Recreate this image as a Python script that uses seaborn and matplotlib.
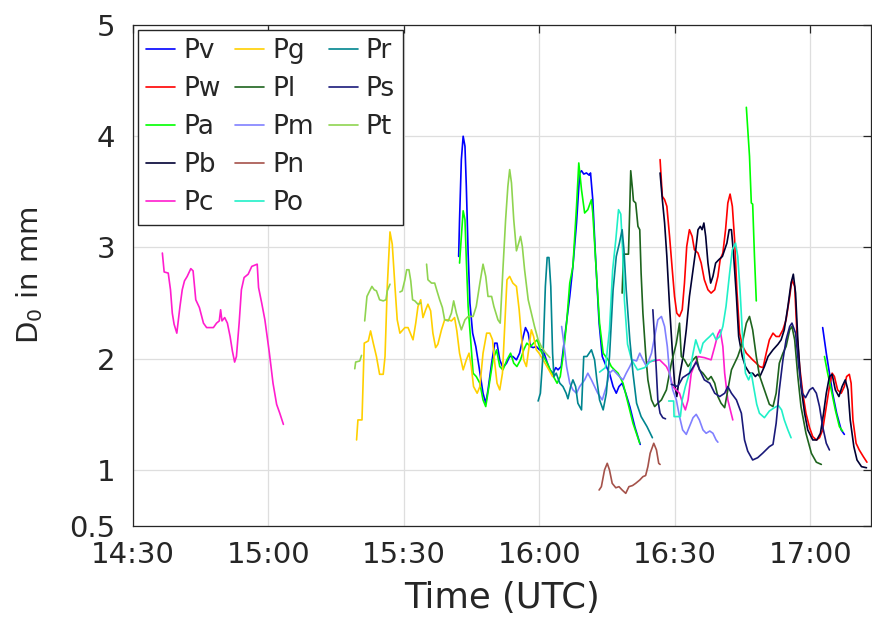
import matplotlib
matplotlib.use("Agg")
import matplotlib.pyplot as plt
import numpy as np
import pandas as pd
import seaborn as sns
from matplotlib.lines import Line2D

# ---------------- data: (minutes after 14:30, D0 in mm); None = gap ----------------
PV = [(72.1,2.92),(72.3,3.25),(72.7,3.79),(73.1,4.00),(73.5,3.91),(73.8,3.55),(74.2,2.95),(74.6,2.50),
      (75.2,2.23),(75.9,2.11),(76.6,1.93),(77.5,1.69),(78.1,1.60),(78.6,1.72),(79.4,1.96),(80.1,2.14),
      (80.6,2.14),(81.2,1.99),(81.9,1.92),(82.7,1.96),(83.4,2.02),(84.1,2.02),(84.9,1.99),(85.6,2.05),
      (86.4,2.20),(86.9,2.28),(87.5,2.23),(88.0,2.11),(88.6,2.10),(89.3,2.11),(90.0,2.08),(90.8,2.08),
      (91.5,1.99),(92.3,1.90),(93.0,1.87),(93.6,1.92),(94.1,1.90),(94.8,1.93),(95.6,2.20),(96.7,2.56),
      (97.4,2.83),(98.2,3.22),(98.9,3.67),(99.3,3.69),(99.8,3.66),(100.4,3.67),(101.0,3.65),(101.3,3.67),
      (101.8,3.43),(102.4,2.92),(103.2,2.32),(103.9,2.02),(104.8,1.93),(105.5,1.87),(106.3,1.75),(107.0,1.69),
      (107.6,1.75),(108.3,1.78),(109.1,1.69),(110.0,1.57),(111.1,1.39),(112.3,1.23), None,
      (152.7,2.28),(153.5,2.05),(154.2,1.87),(154.9,1.69),(155.8,1.51),(156.8,1.36),(157.5,1.32)]

PW = [(116.7,3.79),(117.2,3.46),(117.7,3.43),(118.2,3.37),(118.8,3.10),(119.4,2.80),(119.9,2.56),(120.4,2.41),
      (121.0,2.38),(121.6,2.44),(122.1,2.68),(122.6,3.01),(123.2,3.16),(123.8,3.10),(124.3,2.98),(125.1,2.95),
      (125.8,2.86),(126.5,2.71),(127.3,2.62),(128.0,2.59),(128.8,2.62),(129.5,2.74),(130.0,2.89),(130.6,2.95),
      (131.2,3.16),(131.7,3.40),(132.2,3.48),(132.7,3.37),(133.2,3.07),(133.7,2.62),(134.3,2.23),(135.0,2.11),
      (135.8,2.05),(136.5,2.02),(137.2,1.99),(138.0,1.96),(138.7,1.93),(139.5,1.92),(140.2,2.05),(140.9,2.17),
      (141.7,2.23),(142.4,2.20),(143.1,2.20),(143.9,2.26),(144.6,2.35),(145.4,2.56),(145.9,2.71),(146.5,2.65),
      (147.0,2.23),(147.6,1.93),(148.3,1.69),(149.0,1.51),(149.8,1.38),(150.5,1.30),(151.3,1.27),(152.0,1.29),
      (152.7,1.36),(153.5,1.57),(154.2,1.75),(154.8,1.87),(155.3,1.84),(156.0,1.72),(156.8,1.69),(157.5,1.75),
      (158.0,1.84),(158.6,1.86),(159.0,1.78),(159.4,1.45),(160.1,1.24),(160.8,1.18),(161.7,1.12),(162.5,1.07)]

PA = [(72.3,2.86),(72.7,3.10),(73.1,3.33),(73.5,3.25),(73.8,2.89),(74.2,2.47),(74.7,2.20),(75.3,1.87),
      (76.0,1.84),(76.8,1.78),(77.5,1.63),(78.1,1.57),(78.8,1.75),(79.7,1.99),(80.5,2.08),(81.2,1.93),
      (81.9,1.90),(82.8,1.99),(83.6,2.05),(84.3,1.96),(85.0,1.93),(85.8,1.99),(86.5,2.08),(87.2,2.14),
      (88.0,2.11),(88.7,2.14),(89.5,2.17),(90.2,2.08),(90.9,2.02),(91.7,1.96),(92.4,1.90),(93.1,1.84),
      (93.9,1.78),(94.6,1.84),(95.3,2.05),(96.0,2.32),(96.7,2.68),(97.4,2.83),(98.2,3.37),(98.7,3.76),
      (99.3,3.52),(100.0,3.31),(100.7,3.34),(101.5,3.43),(101.8,3.31),(102.6,2.77),(103.3,2.32),(104.1,2.05),
      (105.2,1.99),(105.9,1.93),(106.6,1.90),(107.4,1.87),(108.5,1.78),(109.6,1.60),(110.7,1.42),(112.2,1.24),
      None,
      (135.8,4.26),(136.5,3.82),(136.9,3.40),(137.2,3.39),(137.6,2.92),(138.0,2.52),
      None,
      (153.1,2.02),(153.8,1.87),(154.6,1.72),(155.5,1.54),(156.4,1.39),(157.1,1.35)]

PB = [(116.7,3.67),(117.2,3.43),(117.7,3.22),(118.2,2.92),(118.8,2.47),(119.4,2.08),(119.9,1.78),(120.4,1.66),
      (121.0,1.84),(121.8,2.02),(122.5,2.26),(123.2,2.56),(124.0,2.80),(124.6,2.98),(125.1,3.16),(125.6,3.19),
      (126.0,3.16),(126.4,3.22),(126.8,3.10),(127.3,2.86),(127.9,2.68),(128.4,2.74),(129.0,2.86),(129.7,2.89),
      (130.5,2.92),(131.0,2.98),(131.5,3.04),(132.0,3.16),(132.5,3.16),(133.0,2.92),(133.6,2.56),(134.1,2.20),
      (134.9,2.02),(135.6,1.93),(136.5,1.87),(137.2,1.87),(137.8,1.84),(138.3,1.86),(138.8,1.84),(139.8,1.93),
      (140.6,2.02),(141.7,2.08),(142.8,2.13),(143.5,2.17),(144.2,2.26),(145.0,2.47),(145.7,2.68),(146.2,2.76),
      (146.7,2.59),(147.2,2.17),(147.9,1.75),(148.7,1.51),(149.4,1.36),(150.5,1.27),(151.4,1.27),(152.2,1.33),
      (152.9,1.51),(153.5,1.69),(154.2,1.84),(154.8,1.86),(155.5,1.72),(156.3,1.66),(157.0,1.75),(157.7,1.81),
      (158.3,1.72),(158.8,1.45),(159.6,1.21),(160.3,1.09),(161.3,1.03),(162.4,1.02)]

PC = [(6.5,2.95),(6.9,2.78),(7.8,2.77),(8.3,2.62),(8.7,2.41),(9.1,2.31),(9.7,2.23),(10.4,2.47),(10.9,2.62),
      (11.4,2.70),(12.0,2.74),(12.8,2.81),(13.3,2.79),(13.9,2.53),(14.7,2.46),(15.6,2.32),(16.3,2.28),(17.8,2.28),
      (18.5,2.32),(19.1,2.34),(19.4,2.44),(19.7,2.34),(20.3,2.37),(20.9,2.32),(21.5,2.20),(22.0,2.07),(22.5,1.97),
      (22.9,2.02),(23.5,2.32),(24.0,2.62),(24.6,2.73),(25.5,2.76),(26.3,2.83),(27.5,2.85),(27.8,2.64),(28.5,2.50),
      (29.2,2.35),(30.2,2.05),(31.0,1.78),(31.8,1.59),(32.5,1.51),(33.3,1.41),
      None,
      (113.9,1.97),(116.6,1.99),(118.1,1.93),(118.8,1.87),(119.5,1.75),(121.0,1.69),(121.7,1.60),(122.3,1.54),
      (122.9,1.63),(123.6,1.87),(125.1,2.02),(126.5,2.01),(128.0,1.99),(128.8,2.11),(129.5,2.22),(130.0,2.26),
      (130.6,2.11),(131.0,1.87),(131.7,1.63),(132.8,1.45)]

PG = [(49.5,1.27),(49.8,1.45),(50.7,1.45),(51.2,2.14),(52.1,2.16),(52.6,2.25),(53.2,2.14),(53.9,2.02),
      (54.6,1.86),(55.4,1.86),(55.8,2.02),(56.3,2.65),(56.9,3.14),(57.4,3.03),(58.0,2.65),(58.5,2.35),
      (59.1,2.23),(60.2,2.28),(60.9,2.28),(61.5,2.22),(62.0,2.17),(62.6,2.32),(63.1,2.47),(63.7,2.53),
      (64.2,2.37),(64.8,2.44),(65.3,2.49),(65.9,2.43),(66.4,2.23),(67.0,2.10),(67.5,2.13),(68.3,2.26),
      (69.0,2.35),(69.8,2.35),(70.5,2.34),(71.2,2.37),(71.7,2.25),(72.3,2.05),(73.1,1.90),(73.8,1.99),
      (74.4,2.05),(74.9,1.93),(75.4,1.75),(76.2,1.69),(76.8,1.75),(77.5,2.05),(78.3,2.23),(79.0,2.23),
      (79.6,2.17),(80.1,1.96),(80.6,1.78),(81.2,1.72),(81.8,1.87),(82.3,2.29),(82.8,2.71),(83.4,2.74),
      (84.1,2.68),(84.9,2.65),(85.5,2.44),(86.0,2.20),(86.5,1.99),(87.1,1.93),(87.7,2.11),(88.2,2.26),
      (88.7,2.20),(89.3,2.08),(89.9,2.05),(90.8,1.99),(91.8,1.92),(92.9,1.84)]

PL = [(108.3,2.59),(108.6,2.94),(109.7,2.94),(110.0,3.37),(110.2,3.69),(110.6,3.52),(110.8,3.42),(111.3,3.40),
      (111.8,3.19),(112.2,3.16),(112.5,2.77),(112.9,2.41),(113.5,2.05),(114.0,1.81),(114.8,1.63),(115.5,1.57),
      (116.2,1.60),(117.0,1.63),(118.1,1.72),(119.2,1.96),(120.3,2.14),(121.0,2.32),(121.4,2.02),(122.1,1.99),
      (122.9,1.93),(124.0,1.99),(124.7,2.02),(125.4,1.90),(126.2,1.87),(127.3,1.81),(128.0,1.84),(128.8,1.78),
      (129.5,1.66),(130.2,1.60),(131.0,1.56),(131.7,1.72),(132.5,1.90),(133.2,1.96),(133.9,2.02),(134.9,2.14),
      (135.8,2.32),(136.5,2.38),(137.2,2.26),(138.0,2.02),(138.7,1.85),(139.8,1.72),(140.9,1.59),(141.7,1.57),
      (142.4,1.69),(143.1,1.96),(143.9,2.05),(144.6,2.11),(145.4,2.26),(145.9,2.29),(146.5,2.17),(147.2,1.84),
      (147.9,1.57),(149.0,1.33),(150.2,1.15),(151.3,1.07),(152.4,1.05)]

PM = [(94.9,2.29),(95.3,2.17),(96.0,1.93),(96.7,1.78),(97.4,1.72),(98.2,1.69),(98.9,1.75),(100.0,1.81),
      (100.7,1.87),(101.5,1.81),(102.2,1.75),(102.9,1.69),(103.9,1.63),(104.8,1.75),(105.5,1.87),(106.3,1.90),
      (107.0,1.87),(107.7,1.84),(108.5,1.81),(109.2,1.87),(110.0,1.93),(110.7,1.99),(111.5,1.98),(112.2,2.05),
      (112.9,1.99),(113.7,1.93),(114.8,2.05),(115.5,2.20),(116.2,2.35),(117.0,2.38),(117.7,2.29),(118.3,2.11),
      (118.8,1.87),(119.5,1.72),(120.3,1.63),(121.0,1.48),(121.7,1.36),(122.5,1.32),(123.2,1.39),(124.0,1.47),
      (124.7,1.50),(125.4,1.45),(126.2,1.36),(126.9,1.33),(127.7,1.35),(128.4,1.33),(129.1,1.27),(129.5,1.25)]

PN = [(103.2,0.82),(103.7,0.85),(104.4,1.00),(105.0,1.06),(105.5,1.00),(106.1,0.88),(106.9,0.84),(107.6,0.85),
      (108.3,0.82),(109.1,0.79),(109.8,0.85),(110.6,0.86),(111.3,0.88),(112.2,0.91),(112.9,0.94),(113.5,0.95),
      (114.0,1.03),(114.5,1.15),(115.3,1.24),(115.9,1.18),(116.4,1.06),(116.7,1.05)]

PO = [(103.3,1.88),(104.6,1.92),(105.5,2.26),(106.2,2.80),(106.9,3.07),(107.5,3.34),(108.0,3.30),(108.4,2.98),
      (108.8,2.53),(109.5,2.13),(110.4,1.99),(111.7,1.90),(113.3,1.92),(114.4,1.97),(115.5,1.99),
      None,
      (118.6,1.62),(119.7,1.62),(119.8,1.48),(121.2,1.48),(121.6,1.63),(122.3,1.75),(123.2,1.87),(124.0,2.05),
      (124.6,2.17),(125.1,2.11),(125.6,2.05),(126.2,2.14),(126.9,2.17),(127.7,2.20),(128.4,2.23),(129.1,2.17),
      (129.9,2.20),(130.6,2.29),(131.3,2.47),(132.1,2.77),(132.7,2.98),(133.4,3.04),(133.9,2.92),(134.4,2.62),
      (135.0,2.17),(135.6,1.87),(136.3,1.81),(136.9,1.87),(137.4,1.75),(138.1,1.59),(138.7,1.51),(139.8,1.47),
      (140.9,1.53),(142.0,1.56),(142.9,1.58),(143.6,1.54),(144.2,1.45),(145.0,1.36),(145.7,1.29)]

PR = [(89.7,1.62),(90.2,1.69),(90.8,2.05),(91.3,2.65),(91.7,2.91),(92.1,2.91),(92.5,2.65),(92.9,2.05),
      (93.2,1.84),(93.7,1.87),(94.5,1.78),(95.2,1.75),(95.9,1.69),(96.3,1.64),(96.9,1.75),(97.4,1.81),
      (98.0,1.75),(98.5,1.60),(99.3,1.54),(99.8,2.02),(100.5,2.02),(101.5,2.08),(102.2,1.99),(102.7,1.81),
      (103.3,1.63),(104.1,1.54),(104.8,1.69),(105.5,2.02),(106.3,2.62),(107.0,2.92),(107.7,3.04),(108.3,3.16),
      (108.7,2.98),(109.2,2.62),(110.0,2.17),(110.7,1.87),(111.5,1.60),(112.5,1.48),(113.8,1.39),(115.0,1.29)]

PS = [(115.1,2.44),(115.5,2.17),(115.9,1.87),(116.2,1.63),(116.7,1.51),(117.3,1.47),(117.9,1.46),
      None,
      (119.2,1.77),(120.6,1.75),(121.7,1.83),(123.2,1.87),(124.7,1.97),(125.8,1.87),(126.5,1.81),(127.7,1.78),
      (128.8,1.69),(129.9,1.66),(131.0,1.69),(131.7,1.75),(132.5,1.69),(133.6,1.63),(134.7,1.51),(135.4,1.27),
      (136.1,1.17),(137.2,1.09),(138.3,1.11),(139.4,1.15),(140.9,1.21),(141.7,1.23),(142.4,1.42),(143.1,1.72),
      (143.9,1.99),(144.6,2.17),(145.4,2.29),(145.9,2.32),(146.7,2.23),(147.4,1.93),(148.2,1.69),(148.9,1.65),
      (149.8,1.72),(150.5,1.74),(151.3,1.69),(152.0,1.57),(152.7,1.39),(153.5,1.24),(154.2,1.18)]

PT = [(49.1,1.91),(49.3,1.97),(50.2,1.98),(50.6,2.03),
      None,
      (51.3,2.34),(51.8,2.56),(52.4,2.61),(52.9,2.65),(53.4,2.62),(53.9,2.61),(54.6,2.53),(55.4,2.52),
      (56.0,2.53),(56.3,2.61),(56.9,2.67),
      None,
      (59.1,2.60),(59.6,2.61),(60.2,2.71),(60.6,2.80),(61.1,2.80),(61.5,2.70),(61.9,2.53),(62.4,2.52),
      (63.1,2.49),(63.7,2.50),
      None,
      (65.0,2.85),(65.3,2.71),(66.1,2.68),(66.8,2.68),(67.3,2.61),(67.9,2.53),(68.5,2.46),(69.0,2.35),
      (69.8,2.34),(70.5,2.41),(71.0,2.52),(71.6,2.41),(72.7,2.26),(73.5,2.35),(74.2,2.38),(75.3,2.38),
      (76.0,2.47),(76.8,2.68),(77.5,2.85),(78.1,2.74),(78.6,2.56),(79.4,2.56),(79.9,2.47),(80.8,2.35),
      (81.3,2.32),(81.9,2.80),(82.5,3.25),(83.0,3.55),(83.4,3.70),(83.8,3.58),(84.3,3.25),(84.9,2.97),
      (85.4,3.04),(85.8,3.10),(86.2,3.01),(86.7,2.80),(87.5,2.53),(88.2,2.41),(88.9,2.29),(89.7,2.17),
      (90.4,2.11),(91.2,2.06),(92.3,2.01)]

NAMES = ["Pv", "Pw", "Pa", "Pb", "Pc", "Pg", "Pl", "Pm", "Pn", "Po", "Pr", "Ps", "Pt"]
SERIES = [PV, PW, PA, PB, PC, PG, PL, PM, PN, PO, PR, PS, PT]
COLORS = ["#0000FF", "#FF0000", "#00FF00", "#000033", "#FF1DCE", "#FFD000", "#1E641E",
          "#8080FF", "#A5524A", "#20F0C8", "#00858F", "#1A1A7A", "#8FD450"]

X_TICKS = [0, 30, 60, 90, 120, 150]
X_LABELS = ["14:30", "15:00", "15:30", "16:00", "16:30", "17:00"]
Y_TICKS = [0.5, 1, 2, 3, 4, 5]
Y_LABELS = ["0.5", "1", "2", "3", "4", "5"]

# ---------------- build long table ----------------
rows = []
for name, pts in zip(NAMES, SERIES):
    seg = 0
    for p in pts:
        if p is None:
            seg += 1
            continue
        rows.append((name, f"{name}_{seg}", p[0], p[1]))
df = pd.DataFrame(rows, columns=["probe", "seg", "t", "d0"])

sns.set_theme(style="white")
plt.rcParams["font.family"] = ["DejaVu Sans"]
plt.rcParams["mathtext.default"] = "regular"

TXT = "#262626"
fig = plt.figure(figsize=(8.72, 6.19), dpi=100)
ax = fig.add_axes([133 / 872, 1 - 525.6 / 619, (871 - 133) / 872, (525.6 - 25) / 619])

palette = dict(zip(NAMES, COLORS))
sns.lineplot(data=df, x="t", y="d0", hue="probe", hue_order=NAMES, palette=palette,
             units="seg", estimator=None, sort=False, linewidth=1.2, legend=False, ax=ax)

ax.set_xlim(0, 163.4)
ax.set_ylim(0.5, 5)
ax.set_xticks(X_TICKS)
ax.set_xticklabels(X_LABELS)
ax.set_yticks(Y_TICKS)
ax.set_yticklabels(Y_LABELS)
ax.grid(True, color="#DEDEDE", linewidth=0.9)
ax.set_axisbelow(True)
for s in ax.spines.values():
    s.set_visible(True)
    s.set_color(TXT)
    s.set_linewidth(0.9)
ax.tick_params(axis="both", direction="in", length=6, width=0.9, top=True, right=True,
               color=TXT, labelcolor=TXT, labelsize=21)
ax.tick_params(axis="x", pad=11)
ax.tick_params(axis="y", pad=13)
ax.set_xlabel("Time (UTC)", fontsize=25.5, color=TXT, labelpad=9)
ax.set_ylabel(r"D$_0$ in mm", fontsize=21, color=TXT, labelpad=17)

handles = [Line2D([], [], color=c, lw=1.2) for c in COLORS]
labels = list(NAMES)
handles += [Line2D([], [], color="none", lw=0), Line2D([], [], color="none", lw=0)]
labels += ["", ""]
leg = ax.legend(handles, labels, ncol=3, loc="upper left", fontsize=19, frameon=True,
                fancybox=False, framealpha=1, edgecolor=TXT, borderaxespad=0.18,
                borderpad=0.33, handlelength=1.1, handletextpad=0.3, columnspacing=0.55,
                labelspacing=0.45)
leg.get_frame().set_linewidth(1.0)

fig.savefig("out.png", dpi=100)
